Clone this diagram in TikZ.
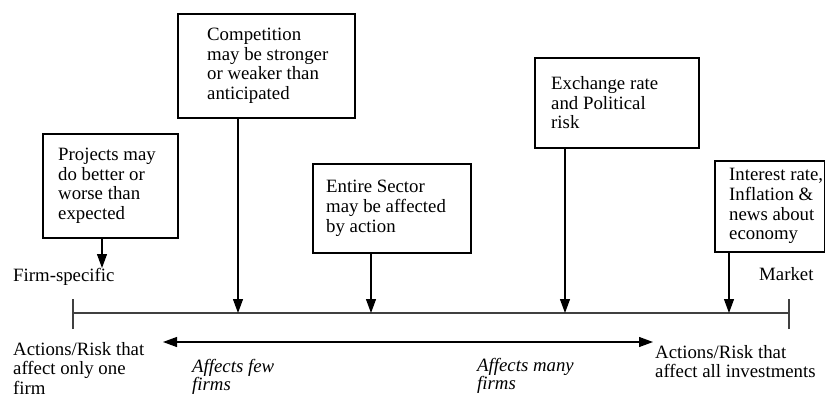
\documentclass[tikz,border=0pt]{standalone}
\usepackage{fontspec}
\setmainfont{Liberation Serif}
\usetikzlibrary{arrows.meta}
\begin{document}
\begin{tikzpicture}[x=1pt,y=-1pt,
  frame/.style={draw, line width=1.6pt, inner sep=0pt, anchor=north west},
  txt/.style={inner sep=0pt, align=left, font=\fontsize{18.8}{19.7}\selectfont},
  slant/.style={inner sep=0pt, align=left, font=\fontsize{18.8}{18}\selectfont\itshape},
  tip/.style={-{Triangle[width=10pt,length=14pt]}},
  pointer/.style={tip, line width=1.1pt},
  axis/.style={line width=1.1pt, draw=black!75}]
\useasboundingbox (0,0) rectangle (825,394);

% points on the axis where the risk sources act
\coordinate (L) at (73,313);
\coordinate (R) at (789,313);
\coordinate (fs) at (102,268);
\coordinate (a1) at (238,313);
\coordinate (a2) at (371,313);
\coordinate (a3) at (565,313);
\coordinate (a4) at (729,313);
\coordinate (dl) at (163,342);
\coordinate (dr) at (653,342);

% risk sources
\node[frame, minimum width=135, minimum height=104] (proj) at (42,133) {};
\node[txt, anchor=west] (projT) at ([xshift=16]proj.west) {Projects may\\do better or\\worse than\\expected};

\node[frame, minimum width=177, minimum height=104] (comp) at (177,13) {};
\node[txt, anchor=west] (compT) at ([xshift=30]comp.west) {Competition\\may be stronger\\or weaker than\\anticipated};

\node[frame, minimum width=158, minimum height=89] (sect) at (312,163) {};
\node[txt, anchor=west] (sectT) at ([xshift=14]sect.west) {Entire Sector\\may be affected\\by action};

\node[frame, minimum width=164, minimum height=90] (exch) at (534,57) {};
\node[txt, anchor=west] (exchT) at ([xshift=17]exch.west) {Exchange rate\\and Political\\risk};

\node[frame, minimum width=110, minimum height=91] (intr) at (714,160) {};
\node[txt, anchor=west] (intrT) at ([xshift=15]intr.west) {Interest rate,\\Inflation \&\\news about\\economy};

% axis
\draw[axis] (L) -- (R);
\draw[axis] ([yshift=-16]L) -- ([yshift=14]L);
\draw[axis] ([yshift=-16]R) -- ([yshift=14]R);

% connectors
\draw[pointer] (proj.south -| fs) -- (fs);
\draw[pointer] (comp.south -| a1) -- (a1);
\draw[pointer] (sect.south -| a2) -- (a2);
\draw[pointer] (exch.south -| a3) -- (a3);
\draw[pointer] (intr.south -| a4) -- (a4);
\draw[{Triangle[width=10pt,length=14pt]}-{Triangle[width=10pt,length=14pt]}, line width=1.1pt] (dl) -- (dr);

% labels (base anchor of a multi-line node sits on its last line)
\node[txt, anchor=base west] (firm) at (13,281) {Firm-specific};
\node[txt, anchor=base west] (mkt) at (759,280) {Market};
\node[txt, anchor=base west] (one) at (13,394.4) {Actions/Risk that\\affect only one\\firm};
\node[txt, anchor=base west] (all) at (655,377.7) {Actions/Risk that\\affect all investments};
\node[slant, anchor=base west] (few) at (192,390) {Affects few\\firms};
\node[slant, anchor=base west] (many) at (477,389) {Affects many\\firms};
\end{tikzpicture}
\end{document}
